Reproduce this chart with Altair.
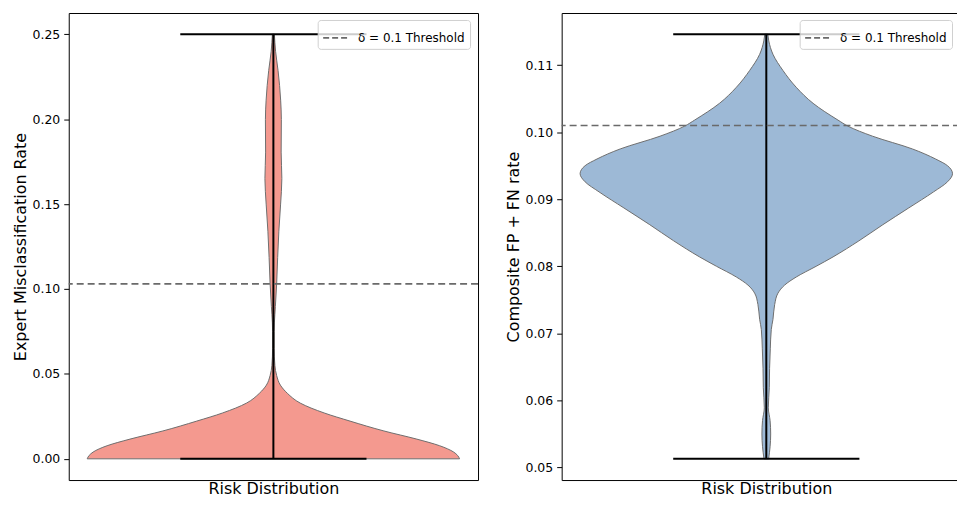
import altair as alt
import pandas as pd

# ---------------- data ----------------
LEGEND_LABEL = "δ = 0.1 Threshold"
X_TITLE = "Risk Distribution"

# Left panel: Expert Misclassification Rate (kernel density profile, arbitrary units)
left_y = [0.000, 0.002, 0.004, 0.0077, 0.0116, 0.0164, 0.0222, 0.027, 0.0328,
          0.0386, 0.0434, 0.049, 0.055, 0.065, 0.075, 0.080, 0.0897, 0.1032,
          0.1186, 0.134, 0.1495, 0.165, 0.1806, 0.1997, 0.2112, 0.2286, 0.240, 0.250]
left_density = [187, 185, 181, 167, 144, 111, 77, 51, 27,
                14, 7, 3.3, 1.5, 0.8, 0.8, 1.0, 2.0, 3.3,
                4.3, 5.5, 7.2, 8.5, 7.8, 8.0, 7.3, 4.7, 2.2, 1.0]
left_min, left_max = 0.0, 0.25
left_threshold = 0.103
left_ticks = [0.00, 0.05, 0.10, 0.15, 0.20, 0.25]
left_title = "Expert Misclassification Rate"

# Right panel: Composite FP + FN rate
right_y = [0.0513, 0.0531, 0.0550, 0.0570, 0.0589, 0.0619, 0.0648, 0.0677, 0.0706,
           0.0721, 0.0743, 0.0760, 0.0772, 0.0784, 0.0800, 0.0814, 0.0838, 0.0862,
           0.0887, 0.0911, 0.0926, 0.0938, 0.0950, 0.0960, 0.0975, 0.0994, 0.1009,
           0.1018, 0.1043, 0.1067, 0.1092, 0.1116, 0.1136, 0.1146]
right_density = [2.3, 3.8, 4.4, 3.8, 2.0, 3.0, 3.3, 4.0, 5.0,
                 6.7, 8.4, 11.7, 18.4, 30, 50, 67, 93, 117,
                 143, 168, 182, 187, 182, 170, 146.7, 106.7, 82,
                 72, 47, 30, 16.7, 6.7, 2.5, 1.5]
right_min, right_max = 0.0513, 0.1146
right_threshold = 0.101
right_ticks = [0.05, 0.06, 0.07, 0.08, 0.09, 0.10, 0.11]
right_title = "Composite FP + FN rate"

# ---------------- styling ----------------
W, H = 411, 469
CAP_HALF = 0.5      # matplotlib cap lines span half of the violin width
X_HALF = 1.099      # x-range of the axes relative to the violin half-width
FONT = "DejaVu Sans"
LEGEND_W = 154


def panel(ys, dens, lo, hi, thr, ticks, ytitle, fill, legend_right_gap):
    m = max(dens)
    prof = pd.DataFrame({"v": ys, "w": [d / m for d in dens]})
    prof["nw"] = -prof["w"]
    pad = 0.05 * (hi - lo)
    ysc = alt.Scale(domain=[lo - pad, hi + pad], nice=False, zero=False)
    xsc = alt.Scale(domain=[-X_HALF, X_HALF], nice=False, zero=False)
    xax = alt.Axis(title=X_TITLE, labels=False, ticks=False, domain=False, grid=False,
                   titleFontSize=16, titleFontWeight="normal", titlePadding=1,
                   titleColor="black")
    yax = alt.Axis(title=ytitle, values=ticks, format=".2f", grid=False, domain=False,
                   tickSize=5, tickColor="black", tickWidth=1, labelFontSize=12.5,
                   labelColor="black", labelPadding=4, titleFontSize=16,
                   titleFontWeight="normal", titleColor="black", titlePadding=4)

    body = alt.Chart(prof).mark_area(
        orient="horizontal", fill=fill, fillOpacity=1, stroke="#6e6e6e",
        strokeWidth=1, interpolate="monotone"
    ).encode(
        y=alt.Y("v:Q", scale=ysc, axis=yax),
        x=alt.X("nw:Q", scale=xsc, axis=xax),
        x2="w:Q",
    )

    ext = pd.DataFrame({"lo": [lo], "hi": [hi]})
    stem = alt.Chart(ext).mark_rule(color="black", strokeWidth=2).encode(
        x=alt.datum(0.0), y=alt.Y("lo:Q"), y2="hi:Q")

    caps_df = pd.DataFrame({"v": [lo, hi]})
    caps = alt.Chart(caps_df).mark_rule(color="black", strokeWidth=2).encode(
        y=alt.Y("v:Q"), x=alt.datum(-CAP_HALF), x2=alt.datum(CAP_HALF))

    thr_df = pd.DataFrame({"t": [thr], "label": [LEGEND_LABEL]})
    thr_rule = alt.Chart(thr_df).mark_rule(strokeDash=[7, 4], strokeWidth=1.6).encode(
        y=alt.Y("t:Q"),
        color=alt.Color("label:N", scale=alt.Scale(range=["#6a6a6a"]),
                        legend=alt.Legend(
                            title=None, orient="none",
                            legendX=W - legend_right_gap - LEGEND_W, legendY=7,
                            symbolType="stroke", symbolSize=625, symbolDash=[6, 3],
                            symbolStrokeWidth=1.6, labelFontSize=12, labelColor="black",
                            labelOffset=9, padding=4.5, fillColor="rgba(255,255,255,0.8)",
                            strokeColor="#d0d0d0", cornerRadius=3)),
    )

    return alt.layer(body, stem, caps, thr_rule).properties(width=W, height=H)


left = panel(left_y, left_density, left_min, left_max, left_threshold, left_ticks,
             left_title, "#f4998f", 7)
right = panel(right_y, right_density, right_min, right_max, right_threshold, right_ticks,
              right_title, "#9db9d6", 18)

chart = alt.hconcat(left, right, spacing=24).resolve_scale(
    color="independent", x="independent", y="independent"
).properties(
    padding={"left": 3, "top": 3, "right": -16, "bottom": 0}
).configure(font=FONT).configure_view(stroke="black", strokeWidth=1)

chart.save("out.html", embed_options={"renderer": "svg", "actions": False})
